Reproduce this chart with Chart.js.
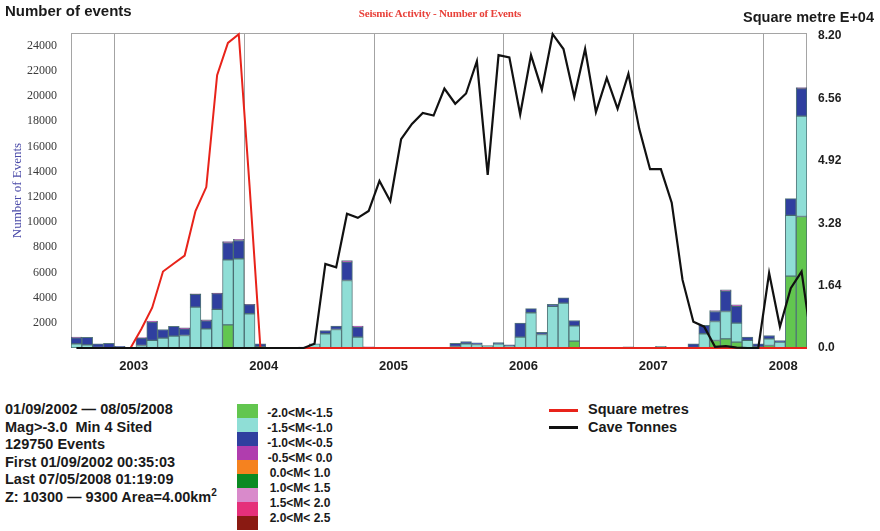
<!DOCTYPE html>
<html><head><meta charset="utf-8">
<script src="https://cdn.jsdelivr.net/npm/chart.js@4/dist/chart.umd.min.js"></script>
<style>
html,body{margin:0;padding:0;background:#fff;}
body{width:880px;height:531px;position:relative;overflow:hidden;font-family:"Liberation Sans",Arial,sans-serif;}
#wrap{position:absolute;left:0;top:0;width:880px;height:385px;}
.t{position:absolute;white-space:nowrap;color:#1a1a1a;font-weight:bold;}
#info div{height:17.6px;line-height:17.6px;}
.sw{position:absolute;left:237px;width:21px;height:14px;}
.ll{position:absolute;width:90px;left:255px;text-align:center;font-weight:bold;font-size:12px;line-height:15px;color:#1a1a1a;white-space:pre;}
.ln{position:absolute;left:549px;width:29px;height:3px;}
</style></head><body>
<div id="wrap"><canvas id="c" width="880" height="385"></canvas></div>
<div class="t" style="left:5px;top:2px;font-size:15px;">Number of events</div>
<div class="t" style="left:0;width:880px;text-align:center;top:7px;font-family:'Liberation Serif',serif;font-size:11px;color:#e8413a;letter-spacing:-0.2px;">Seismic Activity - Number of Events</div>
<div class="t" style="right:6px;top:9px;font-size:14.5px;">Square metre E+04</div>
<div id="info" class="t" style="left:5px;top:401px;font-size:14.5px;">
<div>01/09/2002 — 08/05/2008</div>
<div>Mag&gt;-3.0&nbsp; Min 4 Sited</div>
<div>129750 Events</div>
<div>First 01/09/2002 00:35:03</div>
<div>Last 07/05/2008 01:19:09</div>
<div>Z: 10300 — 9300 Area=4.00km<sup style="font-size:10px;vertical-align:6px;line-height:0">2</sup></div>
</div>
<div id="legend"></div>
<div class="ln" style="top:409px;background:#e8231a;"></div>
<div class="ln" style="top:426px;background:#111;"></div>
<div class="t" style="left:588px;top:401px;font-size:14.5px;">Square metres</div>
<div class="t" style="left:588px;top:419px;font-size:14.5px;">Cave Tonnes</div>
<script>
// Months: index 0 = Sep 2002 ... index 67 = Apr 2008
const monthStart = 'Sep 2002';
const yearLabels = ['2003','2004','2005','2006','2007','2008'];
const yearStartIndex = [4,16,28,40,52,64];

const magNames = ['-2.0<M<-1.5','-1.5<M<-1.0','-1.0<M<-0.5','-0.5<M< 0.0','0.0<M< 1.0','1.0<M< 1.5','1.5<M< 2.0','2.0<M< 2.5'];
const magColors = ['#62c64f','#8fded6','#2f3f9f','#b03dae','#f5821f','#0b8a23','#d98acb','#e5307a','#8a1a12'];

// number of events per month, by magnitude band
const evGreen = [0,0,0,0,
  0,0,0,0,0,0,0,0,0,0,1840,0,
  0,0,0,0,0,0,0,0,0,0,0,0,
  0,0,0,0,0,0,0,0,0,0,0,0,
  0,0,0,0,0,0,540,0,0,0,0,0,
  0,0,0,0,0,0,0,595,730,460,0,0,
  200,0,5700,10440];
const evCyan = [330,250,40,30,
  40,0,200,600,780,940,990,3240,1520,3060,5160,7080,
  2720,100,20,20,30,60,330,1130,1470,5360,860,0,
  0,0,0,0,0,0,0,120,330,280,200,330,
  175,860,2800,1070,3300,3560,1220,0,0,0,0,0,
  0,0,140,0,0,50,1130,1510,2170,1510,600,100,
  530,460,4820,7960];
const evBlue = [480,600,290,350,
  100,60,580,1450,690,770,530,1010,640,1250,1350,1450,
  720,230,40,20,0,20,0,260,260,1450,800,60,
  0,0,0,0,0,0,0,260,180,135,0,100,
  80,1110,320,180,160,430,420,0,0,0,0,0,
  0,0,0,0,0,280,660,790,1610,1330,260,230,
  260,135,1330,2180];
const evPurple = [50,0,0,0,
  0,0,40,80,0,0,80,40,80,40,100,100,
  30,0,0,0,0,0,0,0,0,130,80,40,
  60,0,0,0,0,0,0,0,0,0,0,0,
  0,0,0,0,0,0,0,0,0,0,0,0,
  0,0,0,0,0,0,0,80,110,130,0,0,
  0,0,0,80];
const evOrange = [0,0,0,0, 0,0,0,0,0,0,0,0,0,0,0,0, 0,0,0,0,0,0,0,0,0,0,0,0, 0,0,0,0,0,0,0,0,0,0,0,0, 0,0,0,0,0,0,0,0,0,0,0,0, 0,0,0,0,0,0,0,0,0,0,0,0, 0,0,0,0];
const evDkGreen = [0,0,0,0, 0,0,0,0,0,0,0,0,0,0,0,0, 0,0,0,0,0,0,0,0,0,0,0,0, 0,0,0,0,0,0,0,0,0,0,0,0, 0,0,0,0,0,0,0,0,0,0,0,0, 0,0,0,0,0,0,0,0,0,0,0,0, 0,0,0,0];
const evPink = [0,0,0,0, 0,0,0,0,0,0,0,0,0,0,0,0, 0,0,0,0,0,0,0,0,0,0,0,0, 0,0,0,0,0,0,0,0,0,0,0,0, 0,0,0,0,0,0,0,0,0,0,0,0, 0,0,0,0,0,0,0,0,0,0,0,0, 0,0,0,0];
const evHotPink = [0,0,0,0, 0,0,0,0,0,0,0,0,0,0,0,0, 0,0,0,0,0,0,0,0,0,0,0,0, 0,0,0,0,0,0,0,0,0,0,0,0, 0,0,0,0,0,0,0,0,0,0,0,100, 0,0,0,0,0,0,0,0,0,0,0,0, 0,0,0,0];
const evMaroon = [0,0,0,0, 0,0,0,0,0,0,0,0,0,0,0,0, 0,0,0,0,0,0,0,0,0,0,0,0, 0,0,0,0,0,0,0,0,0,0,0,0, 0,0,0,0,0,0,0,50,50,0,0,0, 0,0,0,0,0,0,0,0,0,0,0,0, 0,0,0,0];

// lines (E+04), one value per month, last entry = May 2008
const squareMetres = [null,null,null,null,
  null,0,0.5,1.06,2.01,2.22,2.43,3.6,4.23,7.17,8.02,8.25,
  4.25,0,0,0,0,0,0,0,0,0,0,0,
  0,0,0,0,0,0,0,0,0,0,0,0,
  0,0,0,0,0,0,0,0,0,0,0,0,
  0,0,0,0,0,0,0,0,0,0,0,0,
  0,0,0,0,0];
const caveTonnes = [0,0,0,0,
  0,0,0,0,0,0,0,0,0,0,0,0,
  0,0,0,0,0,0,0.11,2.21,2.12,3.53,3.42,3.6,
  4.39,3.86,5.49,5.89,6.18,6.11,6.82,6.42,6.69,7.54,4.55,7.7,
  7.64,6.14,7.7,6.79,8.25,7.86,6.6,7.86,6.2,7.1,6.29,7.21,
  5.76,4.7,4.7,3.82,1.79,0.69,0.56,0.03,0.05,0.01,0,0,
  1.97,0.56,1.57,2.01,0];

const leftTicks = [2000,4000,6000,8000,10000,12000,14000,16000,18000,20000,22000,24000];
const rightTicks = [0,1.64,3.28,4.92,6.56,8.2];
const rightTickLabels = ['0.0','1.64','3.28','4.92','6.56','8.20'];

const bandData = [evGreen,evCyan,evBlue,evPurple,evOrange,evDkGreen,evPink,evHotPink,evMaroon];
const toXY = arr => arr.map((v,i)=>({x:i+0.5, y:(v===0?null:v)}));
const toLine = arr => arr.map((v,i)=>({x:i+0.5, y:v}));

const labelOffset = 1.8;
const labelPos = yearStartIndex.map(s=>s+labelOffset);

const lineClip = {left:0, right:0, top:4, bottom:4};
const datasets = [
  {type:'line', label:'Cave Tonnes', data:toLine(caveTonnes), yAxisID:'y1', borderColor:'#111', borderWidth:2.2, pointRadius:0, tension:0, order:0, clip:lineClip},
  {type:'line', label:'Square metres', data:toLine(squareMetres), yAxisID:'y1', borderColor:'#e8231a', borderWidth:2, pointRadius:0, tension:0, order:1, spanGaps:false, clip:lineClip}
];
bandData.forEach((arr,k)=>{
  datasets.push({type:'bar', label:magNames[k]||'band'+k, data:toXY(arr), yAxisID:'y',
    backgroundColor:magColors[k], borderColor:'rgba(55,95,100,0.85)', borderWidth:1, borderSkipped:false,
    barPercentage:1, categoryPercentage:1, order:2});
});

const frame = {id:'frame', beforeDatasetsDraw(chart){
  const {ctx, chartArea:a} = chart;
  ctx.save(); ctx.strokeStyle='#a5a5a5'; ctx.lineWidth=1;
  ctx.strokeRect(Math.round(a.left)+0.5, Math.round(a.top)+0.5, Math.round(a.right-a.left)-1, Math.round(a.bottom-a.top)-1);
  ctx.restore();
}};

new Chart(document.getElementById('c'), {
  data:{datasets},
  options:{
    responsive:false, animation:false, devicePixelRatio:1,
    layout:{padding:{top:33,left:0,right:0,bottom:0}},
    plugins:{legend:{display:false}, tooltip:{enabled:false}},
    scales:{
      x:{type:'linear', min:0, max:68, stacked:true, offset:false,
        grid:{offset:false, drawTicks:false, lineWidth:1, color:ctx=>(ctx.tick && yearStartIndex.includes(ctx.tick.value))?'#a3a3a3':'rgba(0,0,0,0)'},
        border:{display:false},
        afterBuildTicks:s=>{ const t=[]; yearStartIndex.forEach((v,i)=>{t.push({value:v}); t.push({value:labelPos[i]});}); s.ticks=t; },
        ticks:{autoSkip:false, maxRotation:0, minRotation:0, padding:11, color:'#1e1e1e',
          font:{family:'Liberation Sans', size:13, weight:'bold'},
          callback:v=>{const i=labelPos.indexOf(v); return i>=0?yearLabels[i]:'';}},
        afterFit:s=>{s.height=37;}
      },
      y:{type:'linear', position:'left', min:0, max:25000, stacked:true,
        grid:{display:false, drawTicks:false}, border:{display:false},
        afterBuildTicks:s=>{s.ticks=leftTicks.map(v=>({value:v}));},
        ticks:{padding:14, color:'#3a3a3a', font:{family:'Liberation Serif', size:12}, callback:v=>String(v)},
        title:{display:true, text:'Number of Events', color:'#4a4aa8', font:{family:'Liberation Serif', size:13}, padding:{top:10,bottom:0}},
        afterFit:s=>{s.width=71;}
      },
      y1:{type:'linear', position:'right', min:0, max:8.28,
        grid:{display:false, drawTicks:false}, border:{display:false},
        afterBuildTicks:s=>{s.ticks=rightTicks.map(v=>({value:v}));},
        ticks:{padding:11, color:'#1e1e1e', font:{family:'Liberation Sans', size:12, weight:'bold'},
          callback:(v,i)=>rightTickLabels[i]},
        afterFit:s=>{s.width=73;}
      }
    }
  },
  plugins:[frame]
});

// magnitude legend
const lg = document.getElementById('legend');
magColors.forEach((c,i)=>{const d=document.createElement('div'); d.className='sw'; d.style.top=(404+i*14)+'px'; d.style.background=c; lg.appendChild(d);});
magNames.forEach((n,i)=>{const d=document.createElement('div'); d.className='ll'; d.style.top=(405.5+i*15)+'px'; d.textContent=n; lg.appendChild(d);});
</script>
</body></html>
